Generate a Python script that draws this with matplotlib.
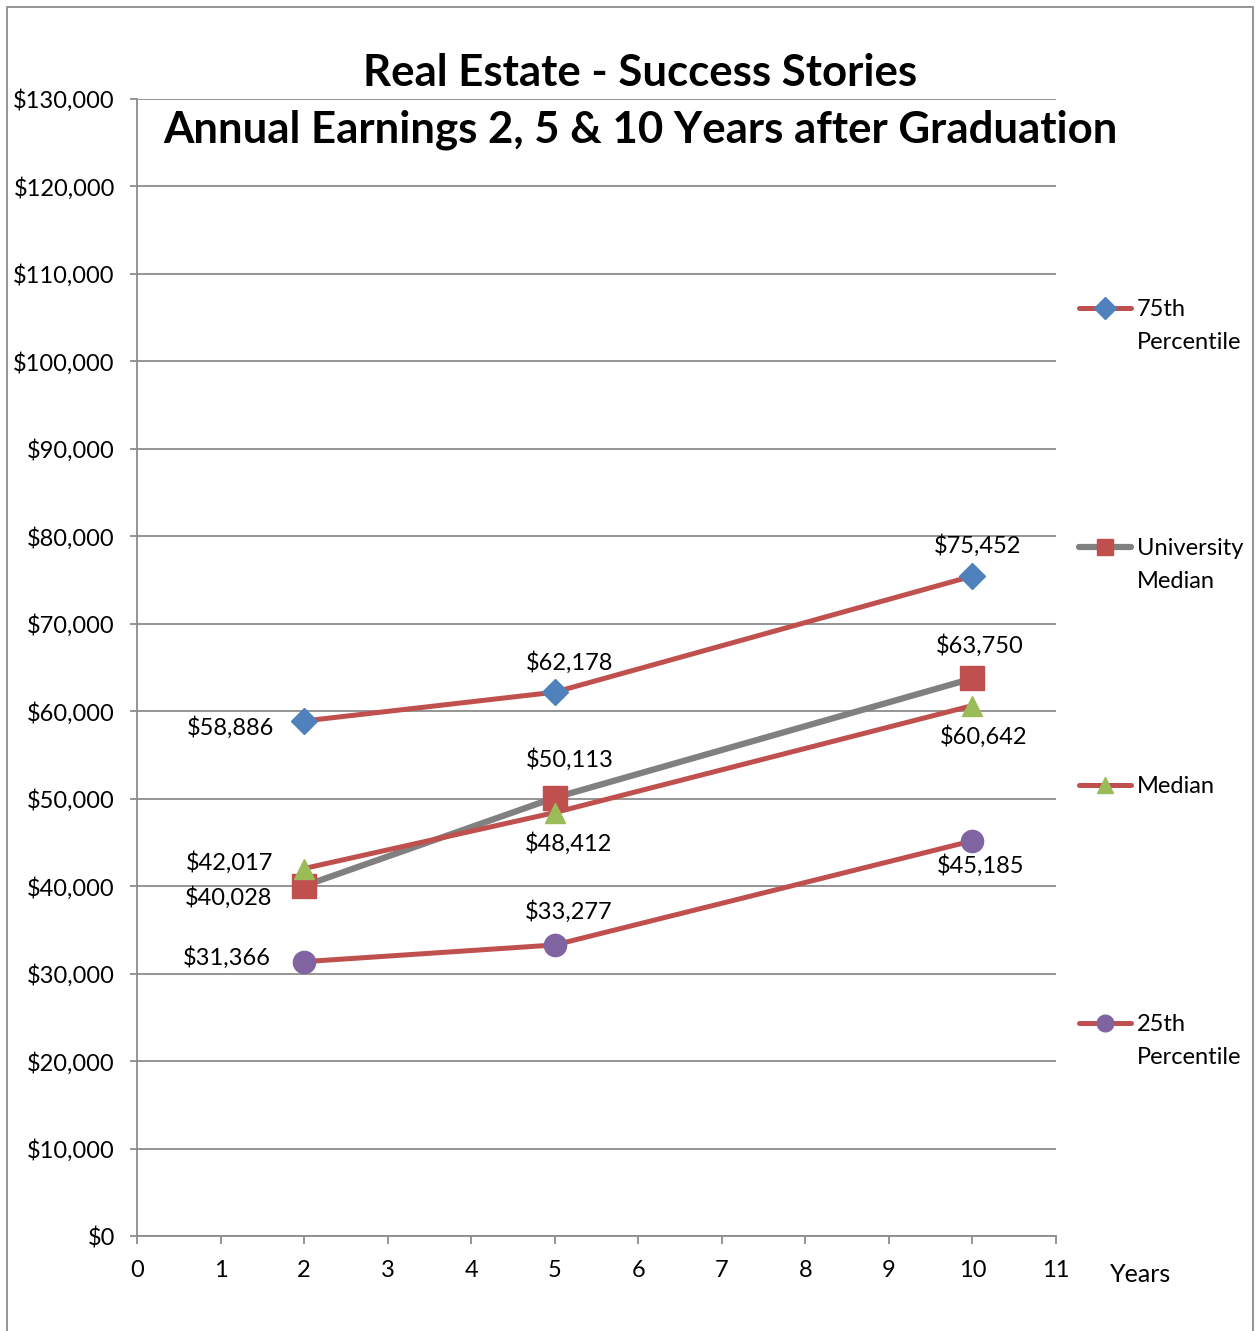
import matplotlib
matplotlib.use('Agg')
import matplotlib.pyplot as plt
from matplotlib.lines import Line2D
from matplotlib.patches import Rectangle
from matplotlib.ticker import FuncFormatter

plt.rcParams['font.family'] = ['Lato', 'DejaVu Sans']

years = [2, 5, 10]
p75 = [58886, 62178, 75452]
univ_median = [40028, 50113, 63750]
median = [42017, 48412, 60642]
p25 = [31366, 33277, 45185]

series_names = ['75th\nPercentile', 'University\nMedian', 'Median', '25th\nPercentile']

RED = '#C0504D'
GRAY = '#808080'
GRID = '#8C8C8C'

fig = plt.figure(figsize=(12.55, 13.31), dpi=100)
ax = fig.add_axes([137/1255, 1 - 1236/1331, (1056-137)/1255, (1236-99)/1331])

# series: values, line colour, line width, marker, marker colour, marker size, legend marker size, zorder, label offsets (px)
styles = [
    (p75, RED, 3.6, 'D', '#4F81BD', 13, 11, 5,
     [(-30, -7, 'right'), (15, 30, 'center'), (5, 31, 'center')]),
    (univ_median, GRAY, 4.5, 's', RED, 17, 12, 3,
     [(-32, -12, 'right'), (15, 38, 'center'), (7, 33, 'center')]),
    (median, RED, 3.6, '^', '#9BBB59', 15, 11, 4,
     [(-31, 6, 'right'), (14, -31, 'center'), (11, -31, 'center')]),
    (p25, RED, 3.6, 'o', '#8064A2', 16, 12, 6,
     [(-33, 4, 'right'), (14, 33, 'center'), (8, -25, 'center')]),
]

for vals, lc, lw, mk, mc, ms, lms, z, offs in styles:
    ax.plot(years, vals, color=lc, lw=lw, zorder=z, solid_capstyle='round')
    ax.plot(years, vals, ls='none', marker=mk, color=mc, ms=ms, zorder=z + 10)
    for x, y, (dx, dy, ha) in zip(years, vals, offs):
        ax.annotate(f'${y:,}', (x, y), xytext=(dx, dy), textcoords='offset pixels',
                    ha=ha, va='center', fontsize=17, zorder=30)

ax.set_xlim(0, 11)
ax.set_ylim(0, 130000)
ax.set_xticks(range(0, 12))
ax.set_yticks(range(0, 130001, 10000))
ax.yaxis.set_major_formatter(FuncFormatter(lambda v, p: f'${int(v):,}'))
ax.grid(axis='y', color=GRID, lw=1.3)
ax.set_axisbelow(True)
for s in ['top', 'right']:
    ax.spines[s].set_visible(False)
for s in ['left', 'bottom']:
    ax.spines[s].set_color(GRID)
    ax.spines[s].set_linewidth(1.3)
ax.tick_params(axis='y', length=5, width=1.3, color=GRID, pad=11, labelsize=17)
ax.tick_params(axis='x', length=6, width=1.3, color=GRID, pad=11, labelsize=17)
ax.set_xlabel('Years', fontsize=18)
ax.xaxis.set_label_coords(1.092, -0.024)

fig.text(640/1255, 1 - 73/1331, 'Real Estate - Success Stories', ha='center', va='center',
         fontsize=31.5, fontweight='bold')
fig.text(640/1255, 1 - 130/1331, 'Annual Earnings 2, 5 & 10 Years after Graduation',
         ha='center', va='center', fontsize=31.5, fontweight='bold')

# legend on the right, drawn by hand so the marker lines up with the first text line
leg_rows = [308, 547, 785, 1023]
for (vals, lc, lw, mk, mc, ms, lms, z, offs), name, row in zip(styles, series_names, leg_rows):
    yf = 1 - row / 1331
    fig.add_artist(Line2D([1079/1255, 1131/1255], [yf, yf], color=lc, lw=lw,
                          solid_capstyle='round', transform=fig.transFigure))
    fig.add_artist(Line2D([1105/1255], [yf], ls='none', marker=mk, color=mc,
                          ms=lms, transform=fig.transFigure))
    fig.text(1137/1255, yf + 9/1331, name, ha='left', va='top', fontsize=17,
             linespacing=1.7)

fig.add_artist(Rectangle((7/1255, -0.01), (1253-7)/1255, 1.01 - 7/1331, fill=False,
                         ec='#8C8C8C', lw=1.3, transform=fig.transFigure))

fig.savefig('out.png', dpi=100)
